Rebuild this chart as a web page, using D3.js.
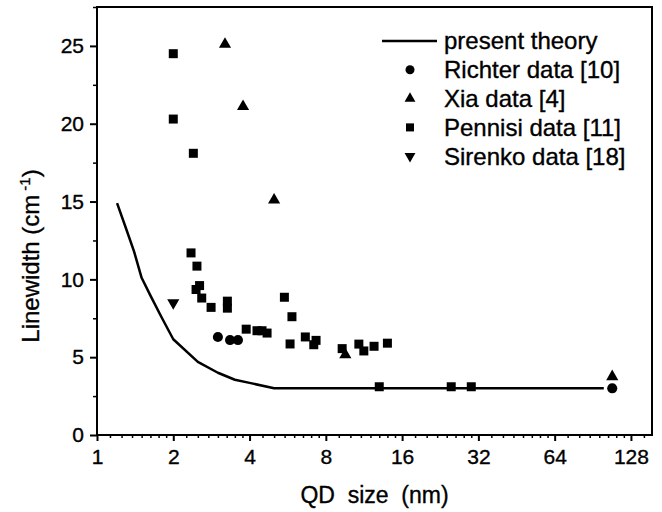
<!DOCTYPE html>
<html>
<head>
<meta charset="utf-8">
<script src="https://cdn.jsdelivr.net/npm/d3@7"></script>
<style>
  body { margin: 0; background: #fff; }
  svg { display: block; font-family: 'Liberation Sans', Arial, sans-serif; }
  svg text { stroke: #000; stroke-width: 0.35px; }
</style>
</head>
<body>
<svg width="662" height="512"></svg>
<script>
// values (x = QD size in nm, y = linewidth in cm^-1)
const theoryX = [1.2, 1.3, 1.4, 1.5, 1.62, 1.8, 2.0, 2.5, 3.0, 3.5, 4.0, 5.0, 100]
const theoryY = [14.9, 13.3, 11.8, 10.1, 9.0, 7.55, 6.15, 4.7, 4.0, 3.55, 3.35, 3.0, 3.0]

const richterX = [3.0, 3.35, 3.6, 108]
const richterY = [6.3, 6.1, 6.1, 3.0]

const xiaX = [3.2, 3.77, 5.0, 9.55, 108]
const xiaY = [25.1, 21.1, 15.1, 5.15, 3.75]

const pennisiX = [2.0, 2.0, 2.4, 2.35, 2.48, 2.54, 2.46, 2.59, 2.82, 3.27, 3.27, 3.88,
  4.28, 4.48, 4.69, 5.49, 5.88, 5.78, 6.64, 7.17, 7.32, 9.28, 10.8, 11.3, 12.4, 14.0,
  13.0, 25.0, 30.0]
const pennisiY = [24.5, 20.3, 18.1, 11.7, 10.85, 9.6, 9.35, 8.8, 8.2, 8.6, 8.15, 6.8,
  6.7, 6.7, 6.55, 8.85, 7.6, 5.85, 6.3, 5.8, 6.08, 5.55, 5.84, 5.4, 5.7, 5.9,
  3.1, 3.1, 3.1]

const sirenkoX = [2.0]
const sirenkoY = [8.5]

const xTicks = [1, 2, 4, 8, 16, 32, 64, 128]
const yTicks = [0, 5, 10, 15, 20, 25]
const legendLabels = ['present theory', 'Richter data [10]', 'Xia data [4]', 'Pennisi data [11]', 'Sirenko data [18]']

const svg = d3.select('svg')
const margin = { top: 7, right: 10, bottom: 77, left: 97 }
const width = 662 - margin.left - margin.right
const height = 512 - margin.top - margin.bottom

const x = d3.scaleLog().base(2).domain([1, 155]).range([margin.left, margin.left + width])
const y = d3.scaleLinear().domain([0, 27.5]).range([margin.top + height, margin.top])

// minor ticks: steps of 1/8 of each octave
const xMinor = []
for (let e = 0; e < 8; e++) {
  const base = 2 ** e
  for (let k = 1; k < 8; k++) {
    const v = base * (1 + k / 8)
    if (v < 155) xMinor.push(v)
  }
}
const yMinor = [2.5, 7.5, 12.5, 17.5, 22.5, 27.5]

const g = svg.append('g')

// frame
g.append('rect')
  .attr('x', margin.left)
  .attr('y', margin.top)
  .attr('width', width)
  .attr('height', height)
  .attr('fill', 'none')
  .attr('stroke', '#000')
  .attr('stroke-width', 2)

// minor ticks
g.append('g')
  .attr('transform', `translate(0,${margin.top + height})`)
  .call(d3.axisBottom(x).tickValues(xMinor).tickSize(3).tickFormat(''))
  .call((a) => a.select('.domain').remove())
  .selectAll('line').attr('stroke-width', 1.5)

g.append('g')
  .attr('transform', `translate(${margin.left},0)`)
  .call(d3.axisLeft(y).tickValues(yMinor).tickSize(4).tickFormat(''))
  .call((a) => a.select('.domain').remove())
  .selectAll('line').attr('stroke-width', 1.5)

// major axes
const xAxis = g.append('g')
  .attr('transform', `translate(0,${margin.top + height})`)
  .call(d3.axisBottom(x).tickValues(xTicks).tickSize(6).tickPadding(8).tickFormat(d3.format('d')))
xAxis.select('.domain').remove()
xAxis.selectAll('line').attr('stroke-width', 2)
xAxis.selectAll('text').attr('font-size', 21).attr('font-family', 'Liberation Sans, Arial, sans-serif').attr('fill', '#000')

const yAxis = g.append('g')
  .attr('transform', `translate(${margin.left},0)`)
  .call(d3.axisLeft(y).tickValues(yTicks).tickSize(7).tickPadding(6))
yAxis.select('.domain').remove()
yAxis.selectAll('line').attr('stroke-width', 2)
yAxis.selectAll('text').attr('font-size', 21).attr('font-family', 'Liberation Sans, Arial, sans-serif').attr('fill', '#000')

// axis titles
svg.append('text')
  .attr('x', margin.left + width / 2)
  .attr('y', 503)
  .attr('text-anchor', 'middle')
  .attr('font-size', 23)
  .attr('xml:space', 'preserve')
  .style('white-space', 'pre')
  .text('QD  size  (nm)')

const yTitle = svg.append('text')
  .attr('transform', 'translate(39,256) rotate(-90)')
  .attr('text-anchor', 'middle')
  .attr('font-size', 24)
yTitle.append('tspan').text('Linewidth (cm')
yTitle.append('tspan').attr('font-size', 15).attr('dy', -9).attr('dx', 4).text('-1')
yTitle.append('tspan').attr('dy', 9).text(')')

// theory curve
const theory = theoryX.map((v, i) => [v, theoryY[i]])
const line = d3.line()
  .x((d) => x(d[0]))
  .y((d) => y(d[1]))

g.append('path')
  .datum(theory)
  .attr('d', line)
  .attr('fill', 'none')
  .attr('stroke', '#000')
  .attr('stroke-width', 2.5)
  .attr('stroke-linejoin', 'round')

// scatter series
const series = [
  { xs: richterX, ys: richterY, type: d3.symbolCircle, size: 80, rot: 0 },
  { xs: xiaX, ys: xiaY, type: d3.symbolTriangle, size: 64, rot: 0 },
  { xs: pennisiX, ys: pennisiY, type: d3.symbolSquare, size: 81, rot: 0 },
  { xs: sirenkoX, ys: sirenkoY, type: d3.symbolTriangle, size: 64, rot: 180 }
]

series.forEach((s) => {
  const sym = d3.symbol().type(s.type).size(s.size)
  g.append('g')
    .selectAll('path')
    .data(s.xs.map((v, i) => [v, s.ys[i]]))
    .join('path')
    .attr('d', sym)
    .attr('fill', '#000')
    .attr('transform', (d) => `translate(${x(d[0])},${y(d[1])}) rotate(${s.rot})`)
})

// legend
const legend = svg.append('g')
const rowY = (i) => 41 + i * 28.8

legend.append('line')
  .attr('x1', 382)
  .attr('x2', 437)
  .attr('y1', rowY(0))
  .attr('y2', rowY(0))
  .attr('stroke', '#000')
  .attr('stroke-width', 2.5)

series.forEach((s, i) => {
  legend.append('path')
    .attr('d', d3.symbol().type(s.type).size(s.size * 0.8))
    .attr('fill', '#000')
    .attr('transform', `translate(410,${rowY(i + 1)}) rotate(${s.rot})`)
})

legend.selectAll('text')
  .data(legendLabels)
  .join('text')
  .attr('x', 444)
  .attr('y', (d, i) => rowY(i))
  .attr('dy', '0.35em')
  .attr('font-size', 24)
  .text((d) => d)
</script>
</body>
</html>
